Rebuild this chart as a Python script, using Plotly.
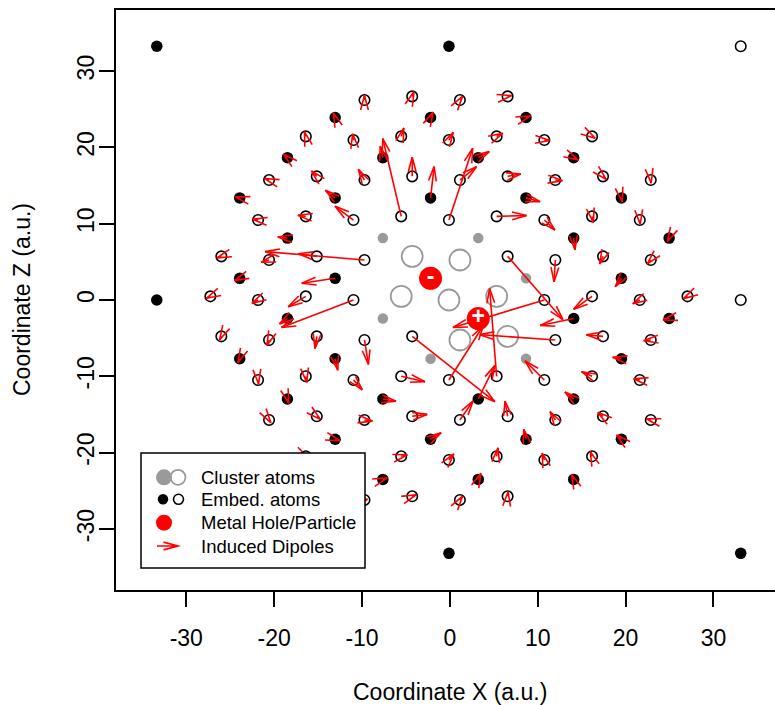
import numpy as np
import plotly.graph_objects as go

# ---------------- embedding cations (filled dots) + induced dipoles ----------------
cation_x = [-7.63, 3.23, 14.09, -13.06, -2.20, 8.66, 19.52, -18.49, -7.63, 3.23, 14.09,
            -23.92, -13.06, 19.52, -18.49, 14.09, 24.95, -23.92, -13.06, 19.52, -18.49,
            14.09, 24.95, -23.92, -13.06, -2.20, 8.66, 19.52, -18.49, -7.63, 3.23, 14.09,
            -13.06, -2.20, 8.66]
cation_y = [-23.51, -23.51, -23.51, -18.24, -18.24, -18.24, -18.24, -12.97, -12.97, -12.97,
            -12.97, -7.70, -7.70, -7.70, -2.43, -2.43, -2.43, 2.84, 2.84, 2.84, 8.11, 8.11,
            8.11, 13.38, 13.38, 13.38, 13.38, 13.38, 18.65, 18.65, 18.65, 18.65, 23.92,
            23.92, 23.92]
cation_dx = [0.5, 0.3, -0.25, 0.55, 1.2, -0.25, -0.55, 0.15, 1.5, 1.9, -1.0, -0.2, 0.3,
             -1.0, -0.9, -3.8, -0.7, -0.6, -3.8, -0.7, -1.1, 0.15, -0.2, -0.5, -1.1, 0.4,
             1.6, 0.1, -0.45, -0.3, 1.25, 0.5, -0.2, 0.3, 0.5]
cation_dy = [0.2, 0.8, 0.65, -0.2, 0.85, 1.3, 0.55, -0.55, -0.3, 4.4, 0.9, -0.5, -1.5,
             0.2, -0.7, -0.9, -0.2, -0.3, -0.65, -1.1, 0.15, -1.55, -0.45, 0.15, 1.0, 4.1,
             -0.5, -0.5, 0.45, 1.5, 0.8, -0.3, 0.6, 0.7, 0.2]

# ---------------- embedding anions (open circles) + induced dipoles ----------------
anion_x = [-27.26, -21.83, -16.40, -10.97, 10.75, 16.18, 21.61, 27.04,
           -26.01, -20.58, -15.15, -9.72, 6.57, 12.00, 17.43, 22.86,
           -26.01, -20.58, -15.15, -9.72, -4.29, 12.00, 17.43, 22.86,
           -21.83, -16.40, -10.97, -5.54, -0.11, 5.32, 10.75, 16.18, 21.61,
           -21.83, -16.40, -10.97, -5.54, -0.11, 5.32, 10.75, 16.18, 21.61,
           -20.58, -15.15, -9.72, -4.29, 1.14, 6.57, 12.00, 17.43, 22.86,
           -20.58, -15.15, -9.72, -4.29, 1.14, 6.57, 12.00, 17.43, 22.86,
           -16.40, -10.97, -5.54, -0.11, 5.32, 10.75, 16.18,
           -16.40, -10.97, -5.54, -0.11, 5.32, 10.75, 16.18,
           -9.72, -4.29, 1.14, 6.57,
           -9.72, -4.29, 1.14, 6.57]
anion_y = [0.48, 0.00, 0.48, 0.00, 0.00, 0.48, 0.00, 0.48,
           5.72, 5.24, 5.72, 5.24, 5.72, 5.24, 5.72, 5.24,
           -4.76, -5.24, -4.76, -5.24, -4.76, -5.24, -4.76, -5.24,
           10.48, 10.96, 10.48, 10.96, 10.48, 10.96, 10.48, 10.96, 10.48,
           -10.48, -10.00, -10.48, -10.00, -10.48, -10.00, -10.48, -10.00, -10.48,
           15.72, 16.20, 15.72, 16.20, 15.72, 16.20, 15.72, 16.20, 15.72,
           -15.72, -15.24, -15.72, -15.24, -15.72, -15.24, -15.72, -15.24, -15.72,
           21.44, 20.96, 21.44, 20.96, 21.44, 20.96, 21.44,
           -20.48, -20.96, -20.48, -20.96, -20.48, -20.96, -20.48,
           26.20, 26.68, 26.20, 26.68,
           -26.20, -25.72, -26.20, -25.72]
anion_dx = [-0.45, -0.7, -2.0, -8.2, -10.4, -2.1, -0.8, -0.45,
            -0.5, -0.9, -2.1, -11.3, 6.3, -0.15, -0.4, -0.4,
            -0.2, -0.25, -0.2, 0.45, 9.4, -8.6, -1.9, -0.8,
            -0.6, -0.9, -2.1, -2.1, 2.7, 3.4, 1.2, 0.15, 0.05,
            0.05, 0.1, 1.0, 2.7, 3.9, -0.8, -2.2, -1.2, -0.7,
            -0.5, -0.6, -0.7, 0.0, 1.9, 1.5, 0.8, 0.35, 0.05,
            0.2, 0.4, 0.9, 1.7, 1.5, -0.3, -0.6, -0.6, -0.5,
            -0.15, -0.1, 0.3, 0.5, 0.7, 0.6, 0.35,
            0.3, 0.5, 0.7, 0.55, 0.15, -0.25, -0.2,
            0.0, 0.2, 0.3, 0.45,
            0.35, 0.45, 0.3, 0.05]
anion_dy = [-0.25, -0.45, -1.36, -3.6, -3.6, -1.7, -0.5, -0.3,
            -0.2, -0.3, 0.35, 1.1, -8.3, -2.85, -1.0, -0.5,
            -0.45, -0.7, -1.6, -3.2, -8.56, 0.7, 0.2, -0.1,
            0.1, 0.15, 1.8, 10.2, 9.4, 0.1, -1.3, -0.8, -0.55,
            -0.5, -0.8, -1.3, -0.7, 7.1, 11.5, 2.5, 0.6, 0.15,
            0.2, 0.7, 1.4, 2.5, 1.75, 0.3, -0.1, -0.4, -0.4,
            -0.35, -0.4, -0.15, 0.25, 2.5, 2.0, 1.1, 0.5, 0.15,
            0.6, 0.8, 1.1, 1.0, 0.4, -0.05, -0.25,
            -0.2, 0.0, 0.2, 0.8, 1.1, 0.9, 0.6,
            0.6, 0.6, 0.5, 0.1,
            0.1, 0.2, 0.5, 0.6]

# ---------------- quantum cluster ----------------
cluster_anion_x = [-4.29, 1.14, -5.54, -0.11, 5.32, 1.14, 6.57]
cluster_anion_y = [5.72, 5.24, 0.48, 0.00, 0.48, -5.24, -4.76]
cluster_cation_x = [-7.63, 3.23, 8.66, -7.63, -2.20, 8.66]
cluster_cation_y = [8.11, 8.11, 2.84, -2.43, -7.70, -7.70]

# metal hole / particle
charge_x = [-2.20, 3.23]
charge_y = [2.84, -2.43]
charge_sign = ["-", "+"]

# outer frame sites
frame_filled_x = [-33.36, -0.11, -33.36, -33.36, -0.11, 33.10]
frame_filled_y = [33.25, 33.25, 0.00, -33.20, -33.20, -33.20]
frame_open_x = [33.10, 33.10]
frame_open_y = [33.25, 0.00]

tick_vals = [-30, -20, -10, 0, 10, 20, 30]
tick_text = ["-30", "-20", "-10", "0", "10", "20", "30"]

# ---------------- geometry of the canvas ----------------
W, H = 775, 705
ML, MR, MT, MB = 116, 0, 10, 115
XR = [-38.0, 37.0]
YR = [-38.0, 38.0]
PW = W - ML - MR
PH = H - MT - MB
SX = PW / (XR[1] - XR[0])   # px per x unit
SY = PH / (YR[1] - YR[0])   # px per y unit
HEAD = 15.0                  # arrow head length, px
ANG = np.radians(15)

FONT = "Liberation Sans"
RED = "#ff0000"
GRAY = "#9a9a9a"
LW = 1.6


def arrow_paths(x0s, y0s, dxs, dys):
    """Shaft + open V head for each dipole, head sized in screen pixels."""
    xs, ys = [], []
    for x0, y0, dx, dy in zip(x0s, y0s, dxs, dys):
        x1, y1 = x0 + dx, y0 + dy
        px, py = dx * SX, dy * SY
        n = np.hypot(px, py)
        ux, uy = px / n, py / n
        heads = []
        for s in (1, -1):
            c, si = np.cos(ANG), np.sin(s * ANG)
            rx = ux * c - uy * si
            ry = ux * si + uy * c
            heads.append((x1 - HEAD * rx / SX, y1 - HEAD * ry / SY))
        xs += [x0, x1, None, heads[0][0], x1, heads[1][0], None]
        ys += [y0, y1, None, heads[0][1], y1, heads[1][1], None]
    return xs, ys


fig = go.Figure()

# frame sites
fig.add_trace(go.Scatter(x=frame_filled_x, y=frame_filled_y, mode="markers",
                         marker=dict(symbol="circle", size=11.5, color="black")))
fig.add_trace(go.Scatter(x=frame_open_x, y=frame_open_y, mode="markers",
                         marker=dict(symbol="circle-open", size=10.5, color="black",
                                     line=dict(width=LW))))
# cluster atoms
fig.add_trace(go.Scatter(x=cluster_cation_x, y=cluster_cation_y, mode="markers",
                         marker=dict(symbol="circle", size=10.5, color=GRAY)))
fig.add_trace(go.Scatter(x=cluster_anion_x, y=cluster_anion_y, mode="markers",
                         marker=dict(symbol="circle-open", size=21, color=GRAY,
                                     line=dict(width=1.8))))
# embedding atoms
fig.add_trace(go.Scatter(x=cation_x, y=cation_y, mode="markers",
                         marker=dict(symbol="circle", size=11.5, color="black")))
fig.add_trace(go.Scatter(x=anion_x, y=anion_y, mode="markers",
                         marker=dict(symbol="circle-open", size=10.5, color="black",
                                     line=dict(width=LW))))
# induced dipoles
ax_, ay_ = arrow_paths(cation_x + anion_x, cation_y + anion_y,
                       cation_dx + anion_dx, cation_dy + anion_dy)
fig.add_trace(go.Scatter(x=ax_, y=ay_, mode="lines",
                         line=dict(color=RED, width=LW), connectgaps=False))
# hole / particle
fig.add_trace(go.Scatter(x=charge_x, y=charge_y, mode="markers+text",
                         text=charge_sign, textposition="middle center",
                         textfont=dict(family=FONT, size=23, color="white", weight="bold"),
                         marker=dict(symbol="circle", size=23, color=RED)))

fig.update_traces(showlegend=False, hoverinfo="skip")


# ---------------- legend (drawn in pixel layout) ----------------
def pxx(p):
    return (p - ML) / PW


def pxy(p):
    return (H - MB - p) / PH


def dot(cx, cy, d, fill, line_color=None, lw=0):
    return dict(type="circle", xref="paper", yref="paper",
                xsizemode="pixel", ysizemode="pixel",
                xanchor=pxx(cx), yanchor=pxy(cy),
                x0=-d / 2, x1=d / 2, y0=-d / 2, y1=d / 2,
                fillcolor=fill, line=dict(color=line_color or fill, width=lw),
                layer="above")


shapes = [dict(type="rect", xref="paper", yref="paper",
               x0=pxx(141), x1=pxx(365), y0=pxy(568), y1=pxy(453),
               fillcolor="white", line=dict(color="black", width=1.5), layer="above")]
rows = [477.3, 499.3, 522.7, 546.0]
labels = ["Cluster atoms", "Embed. atoms", "Metal Hole/Particle", "Induced Dipoles"]
shapes.append(dot(164, rows[0], 16, GRAY))
shapes.append(dot(178, rows[0], 15, "rgba(0,0,0,0)", GRAY, 1.8))
shapes.append(dot(163, rows[1], 10.5, "black"))
shapes.append(dot(178.5, rows[1], 10, "rgba(0,0,0,0)", "black", LW))
shapes.append(dot(164, rows[2], 16, RED))

# legend arrow
lx0, lx1, ly = 157.0, 178.0, rows[3]
h1 = (lx1 - HEAD * np.cos(ANG), ly - HEAD * np.sin(ANG))
h2 = (lx1 - HEAD * np.cos(ANG), ly + HEAD * np.sin(ANG))
path = (f"M{pxx(lx0)},{pxy(ly)} L{pxx(lx1)},{pxy(ly)} "
        f"M{pxx(h1[0])},{pxy(h1[1])} L{pxx(lx1)},{pxy(ly)} L{pxx(h2[0])},{pxy(h2[1])}")
shapes.append(dict(type="path", xref="paper", yref="paper", path=path,
                   line=dict(color=RED, width=LW), layer="above"))

annotations = []
for r, t in zip(rows, labels):
    annotations.append(dict(text=t, x=pxx(199), y=pxy(r), xref="paper", yref="paper",
                            xanchor="left", yanchor="middle", showarrow=False,
                            font=dict(family=FONT, size=18.5, color="black")))

# axis titles
annotations.append(dict(text="Coordinate X (a.u.)", x=0, xref="x", y=pxy(692), yref="paper",
                        xanchor="center", yanchor="middle", showarrow=False,
                        font=dict(family=FONT, size=23, color="black")))
annotations.append(dict(text="Coordinate Z (a.u.)", x=pxx(22), xref="paper", y=0, yref="y",
                        xanchor="center", yanchor="middle", showarrow=False, textangle=-90,
                        font=dict(family=FONT, size=23, color="black")))

axis_common = dict(showgrid=False, zeroline=False, ticks="outside", ticklen=15,
                   tickwidth=1.5, tickcolor="black", showline=True, linecolor="black",
                   linewidth=1.5, tickmode="array", tickvals=tick_vals, ticktext=tick_text,
                   tickfont=dict(family=FONT, size=23, color="black"))

fig.update_layout(
    width=W, height=H,
    margin=dict(l=ML, r=MR, t=MT, b=MB, autoexpand=False),
    paper_bgcolor="white", plot_bgcolor="white",
    xaxis=dict(range=XR, mirror=True, ticklabelstandoff=12, **axis_common),
    yaxis=dict(range=YR, mirror=False, tickangle=-90, ticklabelstandoff=-4, **axis_common),
    shapes=shapes, annotations=annotations,
    hovermode=False,
)

fig.write_html("out.html", config={"displayModeBar": False})
